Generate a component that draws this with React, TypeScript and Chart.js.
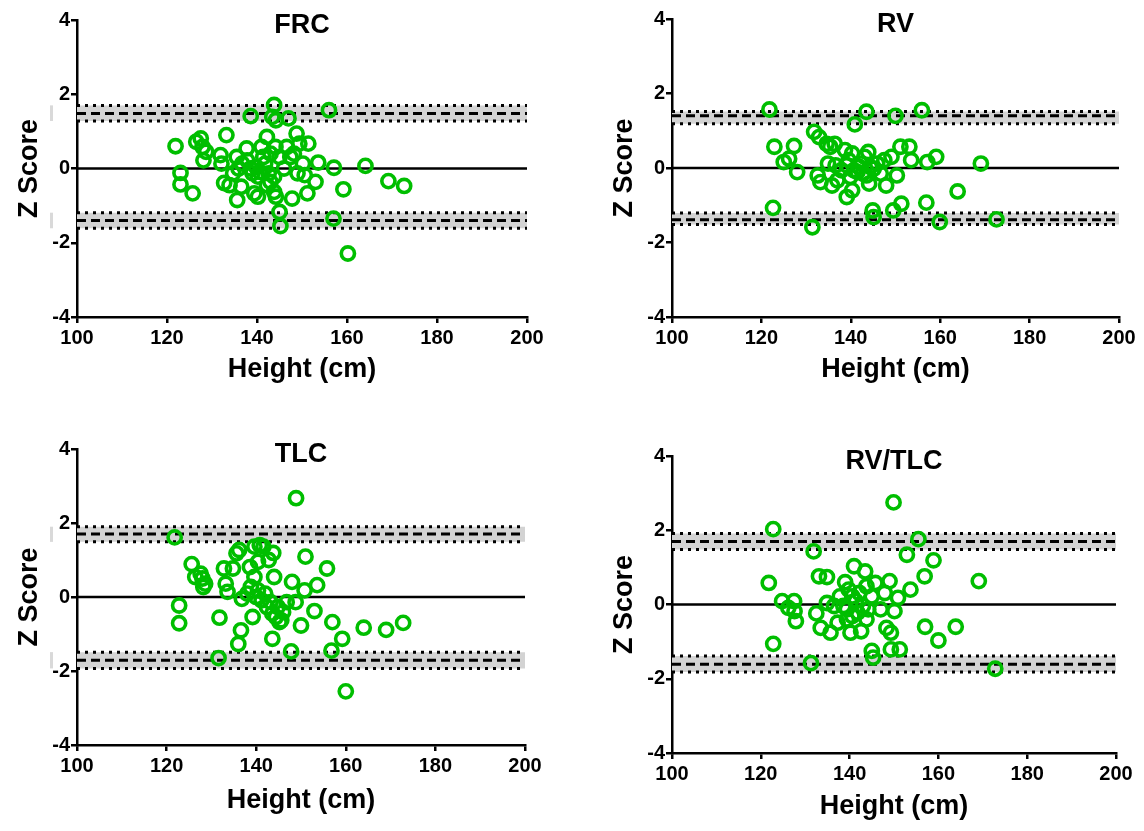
import React, { useEffect, useRef } from "react";
import { Chart, registerables } from "chart.js";

Chart.register(...registerables);

const HEIGHT_MIN = 100;
const HEIGHT_MAX = 200;
const HEIGHT_STEP = 20;
const Z_MIN = -4;
const Z_MAX = 4;
const Z_STEP = 2;

const X_TITLE = "Height (cm)";
const Y_TITLE = "Z Score";

// FRC
const FRC_HEIGHT = [
  121.9, 123.0, 123.0, 125.7, 126.5, 127.5, 127.9, 128.1, 128.7, 133.2, 131.9, 132.1, 132.7, 133.9,
  135.5, 135.9, 135.6, 136.5, 137.7, 138.6, 137.8, 139.0, 139.4, 140.2, 141.0, 142.2, 141.8, 143.0,
  143.4, 143.8, 144.2, 144.1, 143.8, 143.8, 144.2, 145.0, 145.2, 147.0, 146.0, 147.8, 148.8, 149.4,
  148.2, 149.0, 150.2, 151.4, 151.2, 153.0, 153.6, 156.0, 157.1, 157.0, 159.2, 160.2, 164.1, 169.2,
  172.7, 139.8, 140.6, 140.2, 141.4, 138.6, 142.6, 143.0, 142.2, 147.4, 146.6, 134.7, 136.7, 145.0,
  150.6,
];
const FRC_Z = [
  0.6, -0.12, -0.43, -0.67, 0.72, 0.81, 0.58, 0.22, 0.45, 0.9, 0.36, 0.13, -0.39, -0.45,
  0.31, 0.0, -0.85, -0.49, 0.54, 1.41, 0.22, -0.13, -0.67, -0.76, 0.58, 0.85, 0.13, 0.4,
  1.39, 1.71, 1.3, 0.58, -0.22, -0.63, -0.76, -1.17, -1.55, 1.35, 0.0, -0.81, 0.94, 0.67,
  0.4, -0.13, 0.13, 0.67, -0.67, -0.36, 0.16, 1.57, 0.02, -1.35, -0.56, -2.29, 0.07, -0.34,
  -0.47, 0.04, -0.09, -0.22, 0.31, 0.0, -0.13, -0.36, -0.45, 0.31, 0.58, -0.13, 0.13, 0.31,
  -0.18,
];
const FRC_UPPER_BAND = [1.28, 1.48, 1.7];
const FRC_LOWER_BAND = [-1.61, -1.4, -1.19];

// RV
const RV_HEIGHT = [
  121.8, 122.9, 122.6, 125.0, 126.2, 127.3, 128.0, 131.4, 131.8, 132.9, 132.6, 133.2, 134.6, 135.4,
  136.4, 134.9, 135.8, 137.0, 138.7, 139.1, 140.3, 140.9, 139.5, 140.7, 141.9, 142.7, 143.5, 143.9,
  144.1, 144.9, 145.1, 145.1, 145.9, 147.5, 147.9, 149.1, 149.5, 150.0, 150.3, 151.1, 151.3, 153.1,
  153.5, 155.9, 156.9, 157.1, 159.1, 159.9, 163.9, 169.1, 172.6, 137.9, 139.1, 139.9, 141.5, 142.3,
  143.1, 144.3, 143.5, 140.3, 146.7, 136.6,
];
const RV_Z = [
  1.57, 0.57, -1.07, 0.16, 0.25, 0.59, -0.11, -1.59, 0.97, 0.83, -0.2, -0.38, 0.65, 0.57,
  0.65, 0.12, -0.47, -0.33, 0.48, -0.78, -0.6, 1.17, 0.21, -0.06, 0.03, -0.15, 1.51, 0.43,
  -0.42, -1.14, -1.32, -0.02, 0.12, 0.21, -0.47, 0.3, -1.14, 1.4, -0.2, 0.57, -0.96, 0.57,
  0.21, 1.55, -0.93, 0.16, 0.3, -1.45, -0.63, 0.12, -1.38, -0.06, 0.07, -0.24, -0.11, 0.12,
  0.3, 0.03, -0.2, 0.39, -0.15, 0.07,
];
const RV_UPPER_BAND = [1.19, 1.4, 1.52];
const RV_LOWER_BAND = [-1.52, -1.39, -1.21];

// TLC
const TLC_HEIGHT = [
  121.8, 122.8, 122.8, 125.6, 126.4, 127.6, 128.0, 128.2, 128.6, 131.8, 131.6, 132.8, 133.2, 133.6,
  134.8, 135.6, 136.2, 136.0, 136.6, 136.8, 138.6, 139.2, 139.6, 140.4, 140.8, 141.6, 142.8, 143.8,
  140.4, 141.2, 142.4, 143.6, 144.0, 144.4, 145.2, 146.0, 148.0, 147.8, 148.9, 148.8, 150.0, 151.0,
  150.8, 153.0, 153.6, 155.8, 157.0, 156.8, 159.2, 160.0, 164.0, 169.0, 172.8, 138.8, 140.0, 142.0,
  143.2, 143.6, 144.8, 145.6, 138.0, 146.8, 139.6,
];
const TLC_Z = [
  1.61, -0.23, -0.71, 0.89, 0.54, 0.63, 0.5, 0.27, 0.36, -0.56, -1.65, 0.77, 0.36, 0.14,
  0.77, 1.18, 1.27, -1.27, -0.9, -0.05, 0.81, -0.54, 1.36, 0.95, 1.4, 1.36, 1.0, 1.19,
  0.18, -0.09, -0.27, -1.13, 0.54, -0.54, -0.68, -0.41, 0.41, -1.47, 2.67, -0.14, -0.77, 1.09,
  0.18, -0.38, 0.32, 0.77, -0.68, -1.45, -1.13, -2.55, -0.83, -0.89, -0.7, 0.27, 0.0, 0.09,
  -0.14, -0.45, -0.27, -0.63, 0.09, -0.14, 0.54,
];
const TLC_UPPER_BAND = [1.49, 1.7, 1.9];
const TLC_LOWER_BAND = [-1.93, -1.71, -1.49];

// RV/TLC
const RVTLC_HEIGHT = [
  121.8, 122.8, 122.8, 124.8, 126.2, 127.5, 127.6, 127.9, 131.3, 131.9, 132.5, 133.1, 133.5, 134.9,
  134.9, 135.7, 136.5, 137.3, 139.0, 139.4, 140.2, 141.0, 140.6, 141.8, 142.6, 143.5, 143.8, 144.2,
  145.0, 145.3, 145.8, 147.0, 147.9, 148.3, 149.0, 149.3, 149.3, 149.9, 150.1, 150.9, 151.3, 152.9,
  153.7, 155.5, 157.0, 156.9, 158.9, 160.0, 163.9, 169.1, 172.8, 137.8, 138.6, 139.8, 141.4, 142.2,
  143.0, 143.8, 145.0, 140.6, 139.4,
];
const RVTLC_Z = [
  0.58, 2.03, -1.06, 0.09, -0.09, 0.09, -0.18, -0.45, -1.58, 1.43, -0.24, 0.76, -0.63, 0.74,
  0.04, -0.76, -0.04, -0.49, 0.6, -0.4, -0.76, 1.03, 0.22, -0.22, -0.72, 0.89, 0.49, -0.13,
  -1.25, -1.43, 0.58, -0.13, 0.31, -0.63, 0.63, -0.76, -1.21, 2.75, -0.18, 0.18, -1.21, 1.34,
  0.4, 1.76, -0.6, 0.76, 1.19, -0.97, -0.6, 0.63, -1.73, 0.22, -0.04, 0.4, 0.09, 0.31,
  -0.04, -0.4, 0.22, -0.31, -0.13,
];
const RVTLC_UPPER_BAND = [1.48, 1.7, 1.91];
const RVTLC_LOWER_BAND = [-1.82, -1.61, -1.39];

const GREEN = "#00BE00";
const BAND_GREY = "#d3d3d3";
const FONT = '"Liberation Sans", Arial, sans-serif';
const TICK_SIZE = 20;
const AXIS_TITLE_SIZE = 27;
const PANEL_TITLE_SIZE = 27;

type Box = { left: number; top: number; width: number; height: number };
type Plot = { left: number; right: number; top: number; bottom: number };
type PanelDef = {
  title: string;
  xs: number[];
  zs: number[];
  upper: number[];
  lower: number[];
  box: Box;
  plot: Plot;
  yTitleX: number;
  xTitleY: number;
  sideMarks: boolean;
};

const PANELS: PanelDef[] = [
  {
    title: "FRC", xs: FRC_HEIGHT, zs: FRC_Z, upper: FRC_UPPER_BAND, lower: FRC_LOWER_BAND,
    box: { left: 0, top: 0, width: 572, height: 400 },
    plot: { left: 77, right: 527, top: 20, bottom: 317 },
    yTitleX: 30, xTitleY: 370, sideMarks: true,
  },
  {
    title: "RV", xs: RV_HEIGHT, zs: RV_Z, upper: RV_UPPER_BAND, lower: RV_LOWER_BAND,
    box: { left: 572, top: 0, width: 572, height: 400 },
    plot: { left: 672, right: 1119, top: 19, bottom: 317 },
    yTitleX: 625, xTitleY: 370, sideMarks: false,
  },
  {
    title: "TLC", xs: TLC_HEIGHT, zs: TLC_Z, upper: TLC_UPPER_BAND, lower: TLC_LOWER_BAND,
    box: { left: 0, top: 415, width: 572, height: 416 },
    plot: { left: 77, right: 525, top: 449, bottom: 745 },
    yTitleX: 30, xTitleY: 801, sideMarks: true,
  },
  {
    title: "RV/TLC", xs: RVTLC_HEIGHT, zs: RVTLC_Z, upper: RVTLC_UPPER_BAND, lower: RVTLC_LOWER_BAND,
    box: { left: 572, top: 415, width: 572, height: 416 },
    plot: { left: 672, right: 1116, top: 456, bottom: 753 },
    yTitleX: 625, xTitleY: 807, sideMarks: false,
  },
];

const panelTitlePlugin = {
  id: "panelTitle",
  afterDraw(chart: any, _args: any, opts: any) {
    if (!opts || !opts.text) return;
    const { ctx, chartArea } = chart;
    ctx.save();
    ctx.font = `bold ${PANEL_TITLE_SIZE}px ${FONT}`;
    ctx.fillStyle = "#000";
    ctx.textAlign = "center";
    ctx.textBaseline = "alphabetic";
    ctx.fillText(opts.text, (chartArea.left + chartArea.right) / 2, chartArea.top + 13);
    ctx.restore();
  },
};

const sideMarkPlugin = {
  id: "sideMarks",
  afterDraw(chart: any, _args: any, opts: any) {
    if (!opts || !opts.bands) return;
    const { ctx, chartArea } = chart;
    const y = chart.scales.y;
    ctx.save();
    ctx.fillStyle = "#d9d9d9";
    for (const b of opts.bands) {
      const yTop = y.getPixelForValue(b[2]);
      const yBot = y.getPixelForValue(b[0]);
      ctx.fillRect(chartArea.left - 27, yTop, 3, yBot - yTop);
    }
    ctx.restore();
  },
};

function hLine(value: number, style: "solid" | "dash" | "dot", extra: any = {}) {
  return {
    type: "line",
    data: [
      { x: HEIGHT_MIN, y: value },
      { x: HEIGHT_MAX, y: value },
    ],
    borderColor: "#000",
    borderWidth: style === "solid" ? 2.7 : 3,
    borderDash: style === "dash" ? [9, 5] : style === "dot" ? [3, 5] : [],
    borderCapStyle: "butt",
    pointRadius: 0,
    pointHoverRadius: 0,
    fill: false,
    tension: 0,
    ...extra,
  };
}

function bandSets(band: number[]) {
  return [
    hLine(band[1], "dash"),
    hLine(band[2], "dot", { fill: "+1", backgroundColor: BAND_GREY }),
    hLine(band[0], "dot"),
  ];
}

function PanelChart({ p }: { p: PanelDef }) {
  const ref = useRef<HTMLCanvasElement | null>(null);
  useEffect(() => {
    if (!ref.current) return;
    const { box, plot } = p;
    const yWidth = plot.left - box.left;
    const xHeight = box.top + box.height - plot.bottom;
    const padRight = box.left + box.width - plot.right;
    const padTop = plot.top - box.top;
    const lh = AXIS_TITLE_SIZE * 1.2;
    const yTitlePad = p.yTitleX - box.left - lh / 2;
    const xTitlePad = box.top + box.height - p.xTitleY - lh / 2;

    const points = p.xs.map((x, i) => ({ x, y: p.zs[i] }));

    const chart = new Chart(ref.current, {
      type: "scatter",
      data: {
        datasets: [
          {
            type: "scatter",
            data: points,
            showLine: false,
            pointStyle: "circle",
            pointRadius: 6.6,
            pointHoverRadius: 6.6,
            pointBorderWidth: 3.6,
            pointBorderColor: GREEN,
            pointBackgroundColor: "rgba(0,0,0,0)",
            borderColor: GREEN,
            backgroundColor: "rgba(0,0,0,0)",
          } as any,
          hLine(0, "solid") as any,
          ...(bandSets(p.upper) as any[]),
          ...(bandSets(p.lower) as any[]),
        ],
      },
      options: {
        animation: false,
        responsive: false,
        events: [],
        layout: { padding: { left: 0, right: padRight, top: padTop, bottom: 0 } },
        plugins: {
          legend: { display: false },
          tooltip: { enabled: false },
          title: { display: false },
          filler: { drawTime: "beforeDatasetsDraw" },
          panelTitle: { text: p.title },
          sideMarks: p.sideMarks ? { bands: [p.upper, p.lower] } : {},
        } as any,
        scales: {
          x: {
            type: "linear",
            min: HEIGHT_MIN,
            max: HEIGHT_MAX,
            afterFit: (s: any) => {
              s.height = xHeight;
            },
            ticks: {
              stepSize: HEIGHT_STEP,
              color: "#000",
              padding: 3,
              maxRotation: 0,
              autoSkip: false,
              font: { family: FONT, size: TICK_SIZE, weight: "bold" },
            },
            grid: {
              display: true,
              drawOnChartArea: false,
              drawTicks: true,
              tickLength: 6,
              color: "#000",
              lineWidth: 2.5,
            },
            border: { display: true, color: "#000", width: 2.5 },
            title: {
              display: true,
              text: X_TITLE,
              color: "#000",
              font: { family: FONT, size: AXIS_TITLE_SIZE, weight: "bold" },
              padding: { top: 0, bottom: xTitlePad },
            },
          },
          y: {
            type: "linear",
            min: Z_MIN,
            max: Z_MAX,
            afterFit: (s: any) => {
              s.width = yWidth;
            },
            ticks: {
              stepSize: Z_STEP,
              color: "#000",
              padding: 1,
              autoSkip: false,
              font: { family: FONT, size: TICK_SIZE, weight: "bold" },
            },
            grid: {
              display: true,
              drawOnChartArea: false,
              drawTicks: true,
              tickLength: 6,
              color: "#000",
              lineWidth: 2.5,
            },
            border: { display: true, color: "#000", width: 2.5 },
            title: {
              display: true,
              text: Y_TITLE,
              color: "#000",
              font: { family: FONT, size: AXIS_TITLE_SIZE, weight: "bold" },
              padding: { top: yTitlePad, bottom: 0 },
            },
          },
        },
      } as any,
      plugins: [panelTitlePlugin as any, sideMarkPlugin as any],
    });
    return () => chart.destroy();
  }, [p]);

  return (
    <canvas
      ref={ref}
      width={p.box.width}
      height={p.box.height}
      style={{
        position: "absolute",
        left: p.box.left,
        top: p.box.top,
        width: p.box.width,
        height: p.box.height,
      }}
    />
  );
}

export default function App() {
  return (
    <div
      style={{
        position: "absolute",
        left: 0,
        top: 0,
        width: 1144,
        height: 831,
        background: "#fff",
        overflow: "hidden",
      }}
    >
      {PANELS.map((p) => (
        <PanelChart key={p.title} p={p} />
      ))}
    </div>
  );
}
